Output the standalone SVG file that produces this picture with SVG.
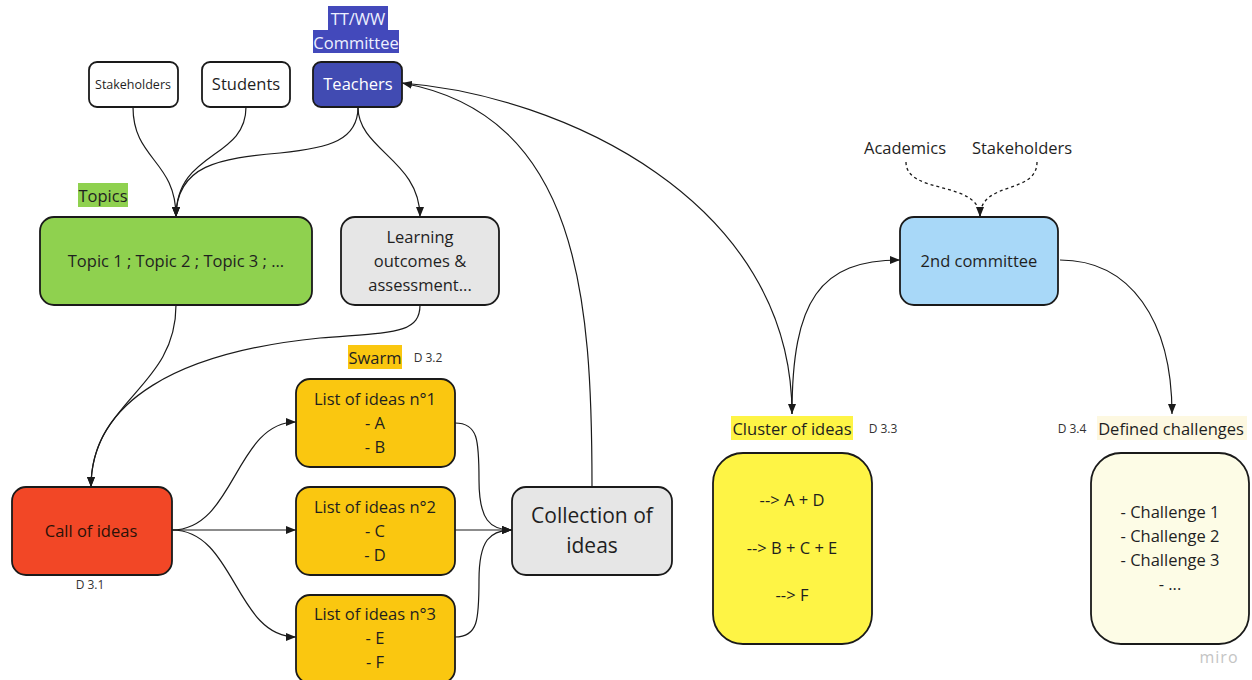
<svg xmlns="http://www.w3.org/2000/svg" width="1252" height="680" viewBox="0 0 1252 680">
<style>
.box{stroke:#1a1a1a;stroke-width:1.8}
.t{font-family:"Open Sans","Liberation Sans",sans-serif;font-size:16.5px;fill:#1f1f1f;text-anchor:middle;dominant-baseline:central}
.s{font-family:"Open Sans","Liberation Sans",sans-serif;font-size:12px;fill:#333;text-anchor:middle;dominant-baseline:central}
.c{fill:none;stroke:#1a1a1a;stroke-width:1.2}
.d{fill:none;stroke:#1a1a1a;stroke-width:1.3;stroke-dasharray:3 3}
</style>
<defs>
<marker id="ah" viewBox="0 0 10 8" refX="10" refY="4" markerWidth="10" markerHeight="8" markerUnits="userSpaceOnUse" orient="auto">
<path d="M0,0 L10,4 L0,8 Z" fill="#1a1a1a"/>
</marker>
</defs>
<rect width="1252" height="680" fill="#ffffff"/>

<g id="connectors">
<path class="c" d="M133,107 C133,160 176,160 176,217" marker-end="url(#ah)"/>
<path class="c" d="M246,107 C246,160 176,150 176,217" marker-end="url(#ah)"/>
<path class="c" d="M358,107 C358,140 330,148 280,153 C220,158 176,165 176,217" marker-end="url(#ah)"/>
<path class="c" d="M358,107 C358,150 420,160 420,217" marker-end="url(#ah)"/>
<path class="c" d="M176,305 C176,390 91,400 91,487" marker-end="url(#ah)"/>
<path class="c" d="M420,305 C420,335 390,332 320,338 C180,352 91,400 91,487" marker-end="url(#ah)"/>
<path class="c" d="M172,530 C235,530 235,422 296,422" marker-end="url(#ah)"/>
<path class="c" d="M172,530 L296,530" marker-end="url(#ah)"/>
<path class="c" d="M172,530 C235,530 235,637 296,637" marker-end="url(#ah)"/>
<path class="c" d="M455,423 C478,423 479,440 479,480 C479,520 490,530 512,530" marker-end="url(#ah)"/>
<path class="c" d="M455,530 L512,530" marker-end="url(#ah)"/>
<path class="c" d="M455,637 C478,637 479,620 479,580 C479,540 490,530 512,530" marker-end="url(#ah)"/>
<path class="c" d="M592,487 C592,300 580,115 402,83" marker-end="url(#ah)"/>
<path class="c" d="M402,83 C560,95 792,200 792,414" marker-end="url(#ah)"/>
<path class="c" d="M792,414 C792,300 820,260 900,260" marker-end="url(#ah)"/>
<path class="c" d="M1060,260 C1130,260 1172,320 1172,414" marker-end="url(#ah)"/>
<path class="d" d="M906,162 C906,195 980,180 980,217" marker-end="url(#ah)"/>
<path class="d" d="M1037,162 C1037,195 980,180 980,217"/>
</g>

<g id="committee-label">
<rect x="328" y="6" width="60" height="24" fill="#4349bb"/>
<rect x="313" y="30" width="86" height="23" fill="#4349bb"/>
<text class="t" x="358" y="18" style="fill:#eef0ff">TT/WW</text>
<text class="t" x="356" y="42" style="fill:#eef0ff">Committee</text>
</g>

<g id="stakeholders">
<rect class="box" x="89" y="62" width="89" height="45" rx="8" fill="#ffffff"/>
<text class="t" x="133" y="84" style="font-size:12.5px">Stakeholders</text>
</g>
<g id="students">
<rect class="box" x="202" y="62" width="88" height="45" rx="8" fill="#ffffff"/>
<text class="t" x="246" y="83">Students</text>
</g>
<g id="teachers">
<rect class="box" x="313" y="62" width="89" height="45" rx="8" fill="#414bb2"/>
<text class="t" x="358" y="83" style="fill:#ffffff">Teachers</text>
</g>

<g id="topics-label">
<rect x="78" y="183" width="50" height="24" fill="#8fd14f"/>
<text class="t" x="103" y="195">Topics</text>
</g>
<g id="topics">
<rect class="box" x="40" y="217" width="272" height="88" rx="14" fill="#8fd14f"/>
<text class="t" x="176" y="260">Topic 1 ; Topic 2 ; Topic 3 ; ...</text>
</g>
<g id="learning">
<rect class="box" x="341" y="217" width="158" height="88" rx="14" fill="#e6e6e6"/>
<text class="t" x="420" y="236">Learning</text>
<text class="t" x="420" y="260">outcomes &amp;</text>
<text class="t" x="420" y="284">assessment...</text>
</g>

<g id="swarm-label">
<rect x="348" y="345" width="54" height="24" fill="#fac710"/>
<text class="t" x="375" y="357">Swarm</text>
<text class="s" x="428" y="357">D 3.2</text>
</g>
<g id="list1">
<rect class="box" x="296" y="379" width="159" height="88" rx="14" fill="#fac710"/>
<text class="t" x="375" y="398">List of ideas n°1</text>
<text class="t" x="375" y="422">- A</text>
<text class="t" x="375" y="446">- B</text>
</g>
<g id="list2">
<rect class="box" x="296" y="487" width="159" height="88" rx="14" fill="#fac710"/>
<text class="t" x="375" y="506">List of ideas n°2</text>
<text class="t" x="375" y="530">- C</text>
<text class="t" x="375" y="554">- D</text>
</g>
<g id="list3">
<rect class="box" x="296" y="595" width="159" height="88" rx="14" fill="#fac710"/>
<text class="t" x="375" y="613">List of ideas n°3</text>
<text class="t" x="375" y="637">- E</text>
<text class="t" x="375" y="661">- F</text>
</g>
<g id="call">
<rect class="box" x="12" y="487" width="160" height="88" rx="14" fill="#f24726"/>
<text class="t" x="91" y="530" style="fill:#2a1208">Call of ideas</text>
<text class="s" x="90" y="584">D 3.1</text>
</g>
<g id="collection">
<rect class="box" x="512" y="487" width="160" height="88" rx="14" fill="#e6e6e6"/>
<text class="t" x="592" y="515" style="font-size:21px">Collection of</text>
<text class="t" x="592" y="545" style="font-size:21px">ideas</text>
</g>

<g id="sources">
<text class="t" x="905" y="147">Academics</text>
<text class="t" x="1022" y="147">Stakeholders</text>
</g>
<g id="committee2">
<rect class="box" x="900" y="217" width="158" height="88" rx="14" fill="#a8d8f8"/>
<text class="t" x="979" y="260">2nd committee</text>
</g>

<g id="cluster-label">
<rect x="731" y="416" width="122" height="24" fill="#fef445"/>
<text class="t" x="792" y="428">Cluster of ideas</text>
<text class="s" x="883" y="428">D 3.3</text>
</g>
<g id="cluster">
<rect class="box" x="713" y="453" width="159" height="191" rx="30" fill="#fef445"/>
<text class="t" x="792" y="499">--&gt; A + D</text>
<text class="t" x="792" y="547">--&gt; B + C + E</text>
<text class="t" x="792" y="594">--&gt; F</text>
</g>

<g id="defined-label">
<rect x="1097" y="416" width="150" height="24" fill="#fdf8e1"/>
<text class="t" x="1171" y="428">Defined challenges</text>
<text class="s" x="1072" y="428">D 3.4</text>
</g>
<g id="challenges">
<rect class="box" x="1091" y="453" width="158" height="191" rx="30" fill="#fdfce6"/>
<text class="t" x="1170" y="511">- Challenge 1</text>
<text class="t" x="1170" y="535">- Challenge 2</text>
<text class="t" x="1170" y="559">- Challenge 3</text>
<text class="t" x="1170" y="583">- ...</text>
</g>

<text x="1219" y="657" style="font-family:'Open Sans','Liberation Sans',sans-serif;font-size:16px;fill:#c4c4c4;text-anchor:middle;dominant-baseline:central;letter-spacing:1px">miro</text>
</svg>
